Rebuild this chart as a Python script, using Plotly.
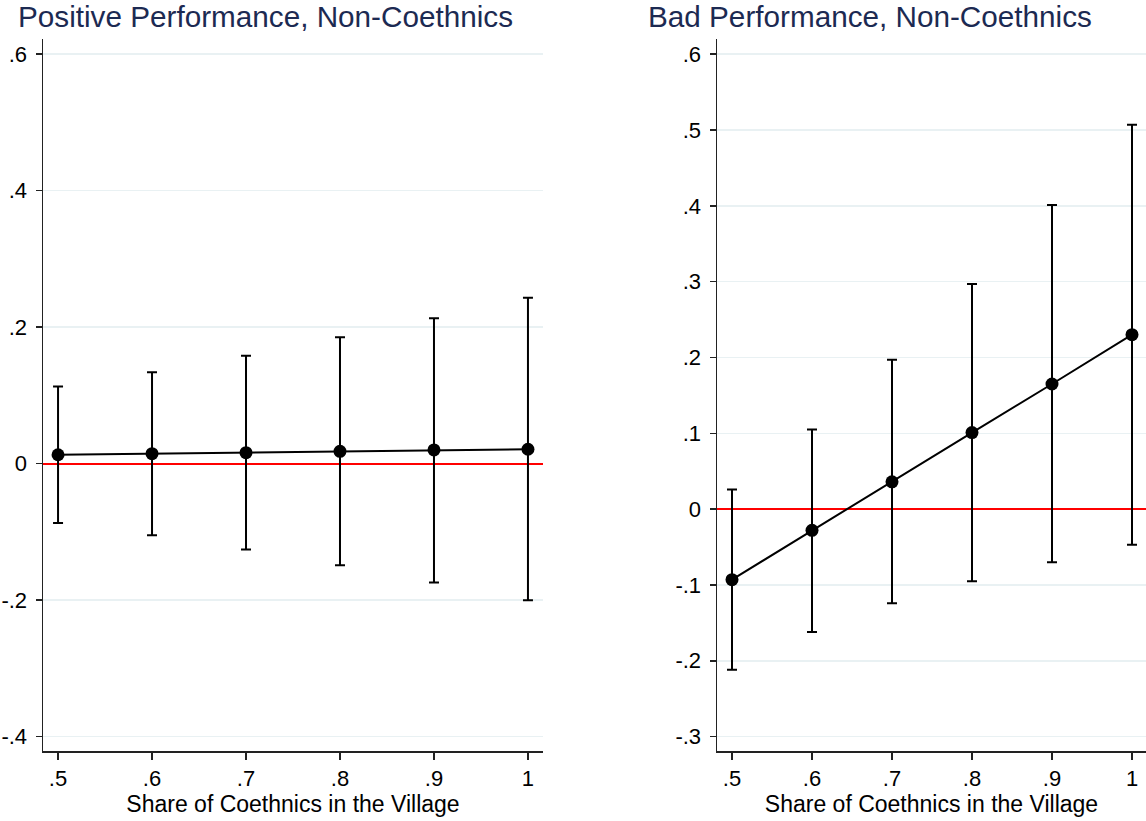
import plotly.graph_objects as go

# ---- data ----
share = [0.5, 0.6, 0.7, 0.8, 0.9, 1.0]

pos_est = [0.013, 0.0146, 0.016, 0.018, 0.020, 0.021]
pos_hi = [0.113, 0.134, 0.158, 0.185, 0.213, 0.243]
pos_lo = [-0.087, -0.105, -0.126, -0.149, -0.174, -0.200]

bad_est = [-0.093, -0.028, 0.036, 0.101, 0.165, 0.230]
bad_hi = [0.026, 0.105, 0.197, 0.297, 0.401, 0.507]
bad_lo = [-0.212, -0.162, -0.124, -0.095, -0.070, -0.047]

x_ticks = [0.5, 0.6, 0.7, 0.8, 0.9, 1.0]
x_ticktext = [".5", ".6", ".7", ".8", ".9", "1"]
pos_yticks = [-0.4, -0.2, 0.0, 0.2, 0.4, 0.6]
pos_yticktext = ["-.4", "-.2", "0", ".2", ".4", ".6"]
bad_yticks = [-0.3, -0.2, -0.1, 0.0, 0.1, 0.2, 0.3, 0.4, 0.5, 0.6]
bad_yticktext = ["-.3", "-.2", "-.1", "0", ".1", ".2", ".3", ".4", ".5", ".6"]

titles = ["Positive Performance, Non-Coethnics", "Bad Performance, Non-Coethnics"]
xtitle = "Share of Coethnics in the Village"

# body margin is removed by post_script, so the figure fills the window
W, H = 1146, 821


def px(p):
    return p / W


def py(p):
    return 1 - p / H


FONT = "Liberation Sans, Arial, Helvetica, sans-serif"
TITLE_COLOR = "#1c2a52"
GRID = "#e9f1f3"

fig = go.Figure()


def add_panel(est, hi, lo, xa, ya):
    plus = [h - e for h, e in zip(hi, est)]
    minus = [e - l for e, l in zip(est, lo)]
    fig.add_trace(go.Scatter(
        x=share, y=est, mode="lines+markers",
        xaxis=xa, yaxis=ya,
        line=dict(color="black", width=2),
        marker=dict(color="black", size=13),
        error_y=dict(type="data", array=plus, arrayminus=minus,
                     color="black", thickness=2, width=5),
        showlegend=False, hoverinfo="skip",
    ))


add_panel(pos_est, pos_hi, pos_lo, "x", "y")
add_panel(bad_est, bad_hi, bad_lo, "x2", "y2")

ydom = [py(751), py(39)]

common_x = dict(
    showline=True, linecolor="#222222", linewidth=1.5, mirror=False,
    ticks="outside", ticklen=7, tickwidth=1.5, tickcolor="#222222",
    showgrid=False, zeroline=False,
    tickvals=x_ticks, ticktext=x_ticktext,
    tickfont=dict(family=FONT, size=22, color="black"),
    title=dict(text=xtitle, font=dict(family=FONT, size=23, color="black"), standoff=4),
    automargin=False, fixedrange=True,
)
common_y = dict(
    showline=True, linecolor="#222222", linewidth=1.5, mirror=False,
    ticks="outside", ticklen=6, tickwidth=1.5, tickcolor="#222222",
    showgrid=True, gridcolor=GRID, gridwidth=1.5,
    zeroline=True, zerolinecolor="#ff0000", zerolinewidth=2,
    tickfont=dict(family=FONT, size=22, color="black"),
    ticklabelstandoff=4,
    automargin=False, fixedrange=True,
)

fig.update_layout(
    width=W, height=H,
    margin=dict(l=0, r=0, t=0, b=0),
    paper_bgcolor="white", plot_bgcolor="white",
    xaxis=dict(common_x, domain=[px(43), px(543)], range=[0.484, 1.016], anchor="y"),
    yaxis=dict(common_y, domain=ydom, range=[-0.421, 0.622],
               tickvals=pos_yticks, ticktext=pos_yticktext, anchor="x"),
    xaxis2=dict(common_x, domain=[px(717), 1.0], range=[0.48125, 1.0175], anchor="y2"),
    yaxis2=dict(common_y, domain=ydom, range=[-0.319, 0.620],
                tickvals=bad_yticks, ticktext=bad_yticktext, anchor="x2"),
    annotations=[
        dict(text=titles[0], xref="paper", yref="paper", x=px(16), y=py(17),
             xanchor="left", yanchor="middle", showarrow=False,
             font=dict(family=FONT, size=29.7, color=TITLE_COLOR)),
        dict(text=titles[1], xref="paper", yref="paper", x=px(646), y=py(17),
             xanchor="left", yanchor="middle", showarrow=False,
             font=dict(family=FONT, size=29.7, color=TITLE_COLOR)),
    ],
)

fig.write_html(
    "out.html",
    config={"displayModeBar": False, "staticPlot": True},
    post_script="document.body.style.margin='0';document.body.style.overflow='hidden';",
)
